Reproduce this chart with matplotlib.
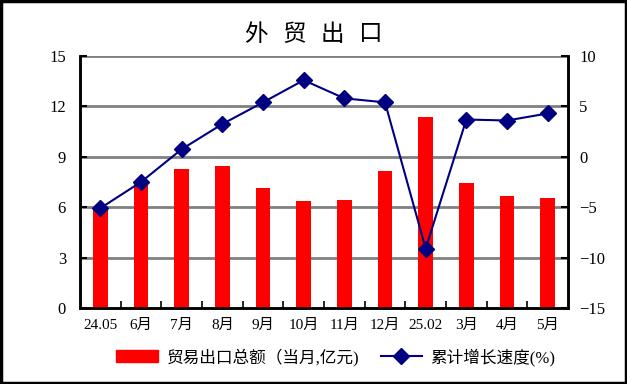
import matplotlib
matplotlib.use("Agg")
import matplotlib.pyplot as plt
from matplotlib.patches import Rectangle
from matplotlib.lines import Line2D
from matplotlib.ticker import MultipleLocator, FixedLocator

plt.rcParams['font.family'] = ['Liberation Serif', 'Noto Sans CJK SC', 'DejaVu Sans']

categories = ['24.05', '6月', '7月', '8月', '9月', '10月', '11月', '12月', '25.02', '3月', '4月', '5月']
export_total = [5.95, 7.4, 8.3, 8.45, 7.15, 6.35, 6.45, 8.15, 11.35, 7.45, 6.65, 6.55]
growth = [-5.1, -2.5, 0.75, 3.25, 5.4, 7.6, 5.8, 5.4, -9.1, 3.7, 3.6, 4.3]
bar_label = '贸易出口总额（当月,亿元)'
line_label = '累计增长速度(%)'
title_chars = ['外', '贸', '出', '口']

fig = plt.figure(figsize=(6.27, 3.84), dpi=100)
ax = fig.add_axes([80/627, 76/384, 488/627, 252/384])
x = list(range(len(categories)))
ax.bar(x, export_total, width=0.36, color='#ff0000', zorder=3, label=bar_label)
ax.set_xlim(-0.5, len(categories) - 0.5)
ax.set_ylim(0, 15)
ax.yaxis.set_major_locator(MultipleLocator(3))
for yv in [3, 6, 9, 12, 15]:
    ax.axhline(yv, color='#808080', lw=2, zorder=1)
ax.set_xticks(x)
ax.set_xticklabels(categories, fontsize=11)
ax.xaxis.set_minor_locator(FixedLocator([i + 0.5 for i in range(len(categories) - 1)]))
ax.tick_params(axis='x', which='major', length=0, pad=8)
ax.tick_params(axis='x', which='minor', length=5, direction='in', width=1.2)
ax.tick_params(axis='y', direction='in', length=5, width=1.5, labelsize=12, pad=10)
for s in ['left', 'bottom', 'right']:
    ax.spines[s].set_linewidth(1.8)
ax.spines['top'].set_visible(False)

ax2 = ax.twinx()
ax2.plot(x, growth, color='#000080', lw=1.5, marker='D', markersize=8, zorder=4, label=line_label)
ax2.set_ylim(-15, 10)
ax2.yaxis.set_major_locator(MultipleLocator(5))
ax2.tick_params(axis='y', direction='in', length=5, width=1.5, labelsize=12, pad=8)
for s in ['left', 'bottom', 'right']:
    ax2.spines[s].set_linewidth(1.8)
ax2.spines['top'].set_visible(False)

# title with wide letter spacing
pitch = 38.5 / 627
cx = 313.5 / 627
n = len(title_chars)
for i, ch in enumerate(title_chars):
    fig.text(cx + (i - (n - 1) / 2) * pitch, 1 - 35 / 384, ch, ha='center', va='center', fontsize=17)

handles = [Rectangle((0, 0), 1, 1, color='#ff0000'),
           Line2D([0], [0], color='#000080', lw=1.5, marker='D', markersize=8)]
fig.legend(handles, [bar_label, line_label], loc='center', bbox_to_anchor=(336/627, 27/384),
           ncol=2, frameon=False, fontsize=12, handlelength=2.5, columnspacing=1.3,
           handletextpad=0.5)

fig.patches.append(Rectangle((0.002, 0.003), 0.996, 0.994, transform=fig.transFigure,
                             fill=False, edgecolor='black', lw=2.5))
fig.savefig('out.png', dpi=100)
